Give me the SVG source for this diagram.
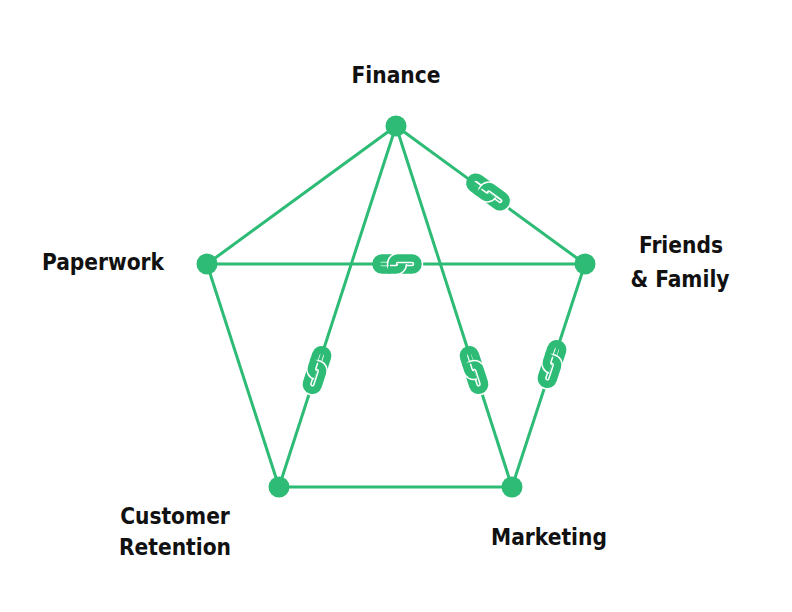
<svg xmlns="http://www.w3.org/2000/svg" xmlns:xlink="http://www.w3.org/1999/xlink" width="792" height="612" viewBox="0 0 792 612">
  <style>
    .edge { stroke: #2dbb75; stroke-width: 3; fill: none; }
    .node { fill: #2dbb75; }
    .label { font-family: "DejaVu Sans Condensed", "DejaVu Sans", sans-serif; font-weight: bold; font-size: 22.5px; fill: #111; text-anchor: middle; }
    .lk { fill: none; stroke: #2dbb75; stroke-width: 7.5; }
    .halo { fill: none; stroke: #fff; stroke-width: 10.5; }
  </style>
  <defs>
    <g id="chain">
      <rect x="-21" y="-6" width="26" height="12" rx="6" fill="#fff" class="lk"/>
      <rect x="-5" y="-6" width="26" height="12" rx="6" class="halo"/>
      <rect x="-5" y="-6" width="26" height="12" rx="6" fill="#fff" class="lk"/>
      <path d="M -7 6 L -1 6 A 6 6 0 0 0 5 0" class="halo" stroke-width="9.5"/>
      <path d="M -9 6 L -1 6 A 6 6 0 0 0 5 0" class="lk"/>
    </g>
  </defs>
  <rect width="792" height="612" fill="#fff"/>
  <g id="connectors">
    <line class="edge" x1="396" y1="126" x2="207" y2="264"/>
    <line class="edge" x1="396" y1="126" x2="585" y2="264"/>
    <line class="edge" x1="207" y1="264" x2="585" y2="264"/>
    <line class="edge" x1="207" y1="264" x2="279" y2="487"/>
    <line class="edge" x1="396" y1="126" x2="279" y2="487"/>
    <line class="edge" x1="396" y1="126" x2="512" y2="487"/>
    <line class="edge" x1="585" y1="264" x2="512" y2="487"/>
    <line class="edge" x1="279" y1="487" x2="512" y2="487"/>
    <use xlink:href="#chain" href="#chain" transform="translate(488,192) rotate(36.1)"/>
    <use xlink:href="#chain" href="#chain" transform="translate(397,264)"/>
    <use xlink:href="#chain" href="#chain" transform="translate(317,370) rotate(108)"/>
    <use xlink:href="#chain" href="#chain" transform="translate(474,370) rotate(72.2)"/>
    <use xlink:href="#chain" href="#chain" transform="translate(552,364) rotate(108.1)"/>
  </g>
  <g id="finance">
    <circle class="node" cx="396" cy="126" r="10.5"/>
    <text class="label" x="396" y="83">Finance</text>
  </g>
  <g id="friends-family">
    <circle class="node" cx="585" cy="264" r="10.5"/>
    <text class="label" x="681" y="253">Friends</text>
    <text class="label" x="680" y="287">&amp; Family</text>
  </g>
  <g id="paperwork">
    <circle class="node" cx="207" cy="264" r="10.5"/>
    <text class="label" x="103" y="270">Paperwork</text>
  </g>
  <g id="customer-retention">
    <circle class="node" cx="279" cy="487" r="10.5"/>
    <text class="label" x="175" y="524">Customer</text>
    <text class="label" x="175" y="555">Retention</text>
  </g>
  <g id="marketing">
    <circle class="node" cx="512" cy="487" r="10.5"/>
    <text class="label" x="549" y="545">Marketing</text>
  </g>
</svg>
